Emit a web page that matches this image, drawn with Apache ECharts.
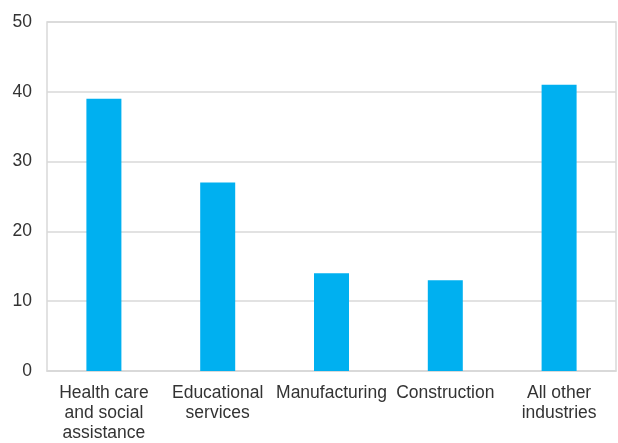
<!DOCTYPE html>
<html>
<head>
<meta charset="utf-8">
<script src="https://cdn.jsdelivr.net/npm/echarts@6/dist/echarts.min.js"></script>
<style>html,body{margin:0;padding:0;background:#fff}#c{width:618px;height:443px}</style>
</head>
<body>
<div id="c"></div>
<script>
const categories = ["Health care\nand social\nassistance", "Educational\nservices", "Manufacturing", "Construction", "All other\nindustries"];
const values = [39, 27, 14, 13, 41];
const yTicks = [0, 10, 20, 30, 40, 50];

const chart = echarts.init(document.getElementById('c'), null, {renderer: 'canvas'});
chart.setOption({
  animation: false,
  backgroundColor: '#ffffff',
  grid: {left: 47, right: 2, top: 22, bottom: 71, show: true, borderColor: '#d9d9d9', borderWidth: 1.5},
  xAxis: {
    type: 'category',
    data: categories,
    axisLine: {show: true, lineStyle: {color: '#d9d9d9', width: 1.5}},
    axisTick: {show: false},
    axisLabel: {color: '#333333', fontFamily: 'Liberation Sans, Arial', fontSize: 17.5, lineHeight: 20, margin: 12, interval: 0}
  },
  yAxis: {
    type: 'value',
    min: yTicks[0], max: yTicks[yTicks.length - 1], interval: 10,
    axisLine: {show: false},
    axisTick: {show: false},
    splitLine: {lineStyle: {color: '#d9d9d9', width: 1.5}},
    axisLabel: {color: '#333333', fontFamily: 'Liberation Sans, Arial', fontSize: 17.5, margin: 15}
  },
  series: [{
    type: 'bar',
    data: values,
    barWidth: 35,
    itemStyle: {color: '#00B0F0'}
  }]
});
</script>
</body>
</html>
